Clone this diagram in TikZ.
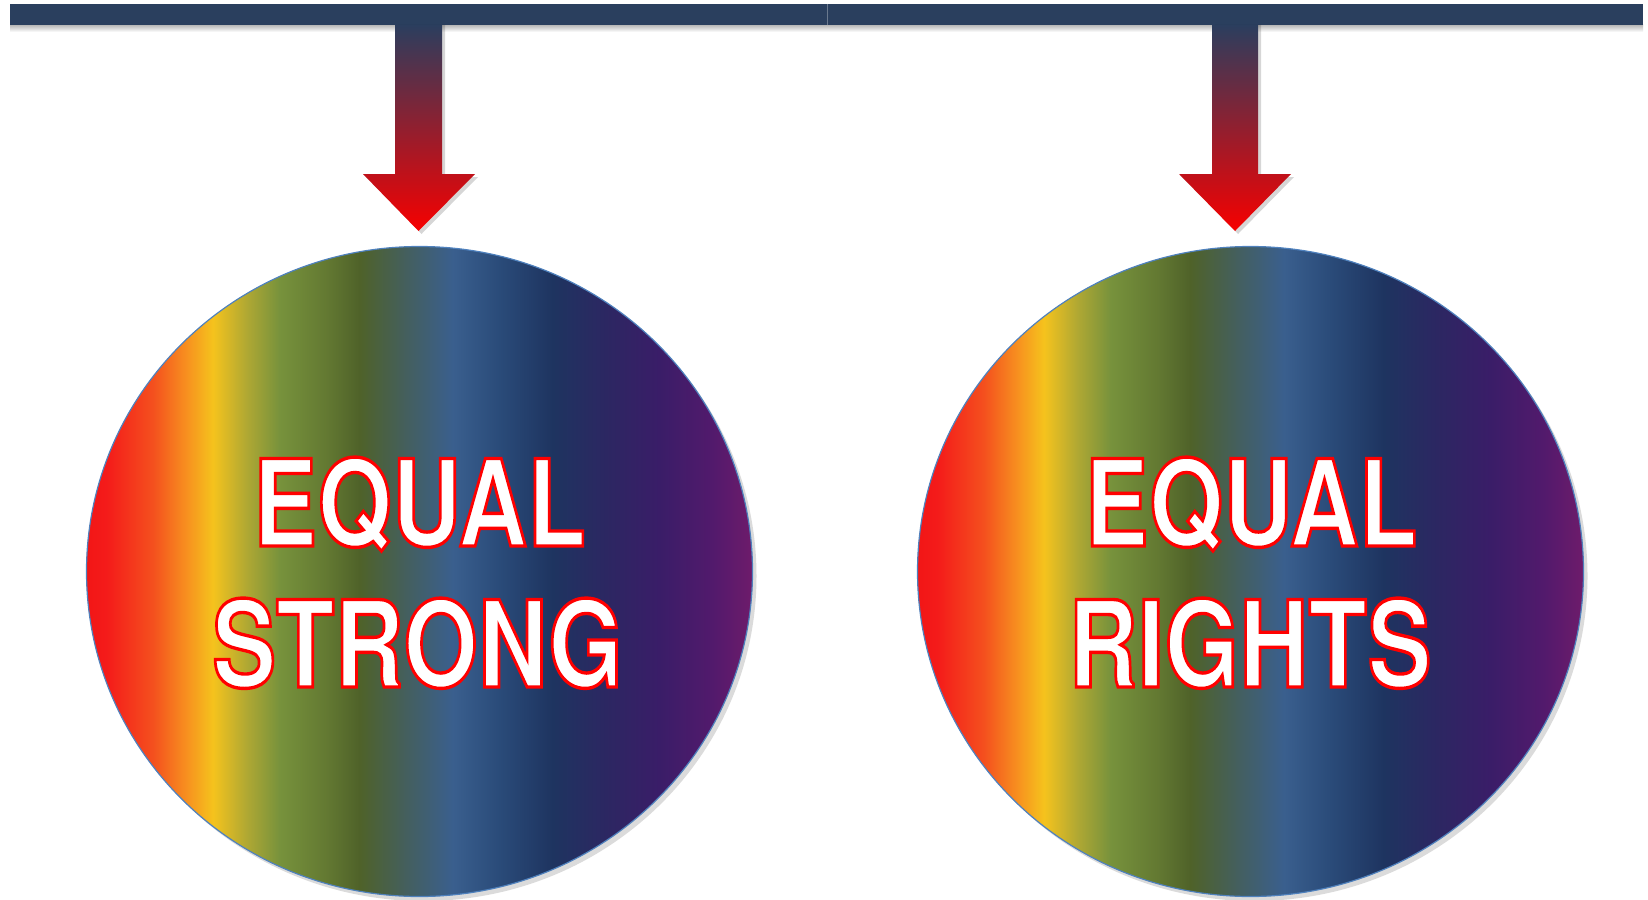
\documentclass[tikz,border=0pt]{standalone}
\usepackage{fontspec}
\setmainfont{TeX Gyre Heros}
\newfontfamily\outlfont[RawFeature={embolden=2.8}]{TeX Gyre Heros Bold}
\usetikzlibrary{shapes.geometric}
\definecolor{barblue}{HTML}{2A3F5E}
\definecolor{arrowtop}{HTML}{2B3E5E}
\definecolor{arrowmid}{HTML}{85223A}
\definecolor{arrowred}{HTML}{F70000}
\definecolor{rimblue}{HTML}{4F81BD}
\definecolor{r0}{HTML}{F21616}
\definecolor{r1}{HTML}{F41B1A}
\definecolor{r2}{HTML}{F4501E}
\definecolor{r3}{HTML}{F7901F}
\definecolor{r4}{HTML}{F5C31D}
\definecolor{r5}{HTML}{B0A833}
\definecolor{r6}{HTML}{77923C}
\definecolor{r7}{HTML}{637932}
\definecolor{r8}{HTML}{4F6229}
\definecolor{r9}{HTML}{445F5E}
\definecolor{r10}{HTML}{3A5F8E}
\definecolor{r11}{HTML}{2A4B79}
\definecolor{r12}{HTML}{1E3460}
\definecolor{r13}{HTML}{2C2762}
\definecolor{r14}{HTML}{3A1D68}
\definecolor{r15}{HTML}{521A6C}
\definecolor{r16}{HTML}{6E1B6B}
\pgfdeclarehorizontalshading{rainbow}{100bp}{color(0bp)=(r0); color(25bp)=(r0);
 color(26.5bp)=(r1); color(30bp)=(r2); color(32.5bp)=(r3); color(34.5bp)=(r4);
 color(37bp)=(r5); color(39.5bp)=(r6); color(43bp)=(r7); color(45.5bp)=(r8);
 color(49bp)=(r9); color(52.5bp)=(r10); color(56bp)=(r11); color(60bp)=(r12);
 color(64bp)=(r13); color(68bp)=(r14); color(72bp)=(r15); color(75bp)=(r16);
 color(100bp)=(r16)}
\newcommand{\redoutline}[1]{\special{pdf:code 1 0 0 RG}#1}
\tikzset{
  bigcircle/.style={ellipse, inner sep=0pt, minimum width=666pt, minimum height=650pt,
    shade, shading=rainbow, draw=rimblue, line width=1.2pt},
  circshadow/.style={ellipse, inner sep=0pt, minimum width=666pt, minimum height=650pt,
    fill=black, opacity=0.14},
  lbl/.style={anchor=base, inner sep=0pt, text=white, xscale=0.8,
    font=\fontsize{120}{141}\selectfont\outlfont},
  arrowshade/.style={top color=arrowtop, middle color=arrowmid, bottom color=arrowred},
  arrowshadow/.style={fill=black, opacity=0.16},
}
\begin{document}
\begin{tikzpicture}[x=1pt,y=-1pt]
\useasboundingbox (0,0) rectangle (1648,899);
% bar shadow and bar
\shade[top color=black!28, bottom color=white] (10,25) rectangle (1643,32);
\fill[barblue] (10,4.5) rectangle (827,25);
\fill[barblue] (827,4.5) rectangle (1643,25);
\draw[barblue!70!white, line width=0.8pt] (827,4.5) -- (827,25);
% arrow shadows
\fill[arrowshadow] (398,25) -- (445,25) -- (445,177) -- (478,177) -- (421.5,234) -- (366,177) -- (398,177) -- cycle;
\fill[arrowshadow] (1215,25) -- (1261,25) -- (1261,177) -- (1294,177) -- (1238,234) -- (1182,177) -- (1215,177) -- cycle;
% arrows
\shade[arrowshade] (395,25) -- (442,25) -- (442,174) -- (475,174) -- (418.5,231) -- (363,174) -- (395,174) -- cycle;
\shade[arrowshade] (1212,25) -- (1258,25) -- (1258,174) -- (1291,174) -- (1235,231) -- (1179,174) -- (1212,174) -- cycle;
% circle shadows
\node[circshadow] (s1) at (423.5,576) {};
\node[circshadow] (s2) at (1254.5,576) {};
% circles
\node[bigcircle] (c1) at (419.5,571.5) {};
\node[bigcircle] (c2) at (1250.5,571.5) {};
% labels
\node[lbl] (e1) at (419.5,546) {\redoutline{EQUAL}};
\node[lbl] (t1) at (417.5,687) {\redoutline{STRONG}};
\node[lbl] (e2) at (1251,546) {\redoutline{EQUAL}};
\node[lbl] (t2) at (1250,687) {\redoutline{RIGHTS}};
\end{tikzpicture}
\end{document}
